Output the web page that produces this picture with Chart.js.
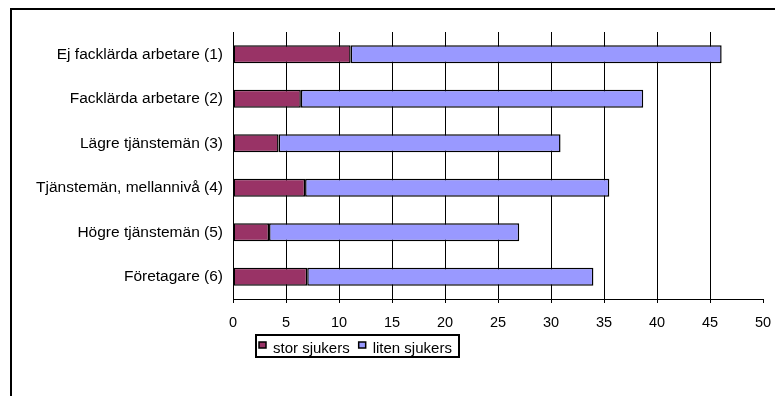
<!DOCTYPE html>
<html>
<head>
<meta charset="utf-8">
<script src="https://cdn.jsdelivr.net/npm/chart.js@4"></script>
<style>
  html, body { margin: 0; padding: 0; background: #fff; }
  canvas { display: block; }
</style>
</head>
<body>
<canvas id="chart" width="775" height="396"></canvas>
<script>
const categories = [
  'Ej facklärda arbetare (1)',
  'Facklärda arbetare (2)',
  'Lägre tjänstemän (3)',
  'Tjänstemän, mellannivå (4)',
  'Högre tjänstemän (5)',
  'Företagare (6)'
];
const storSjukers  = [11.1, 6.4, 4.3, 6.8, 3.4, 7.0];
const litenSjukers = [35.0, 32.3, 26.6, 28.7, 23.6, 27.0];
const seriesNames  = ['stor sjukers', 'liten sjukers'];
const xTicks       = [0, 5, 10, 15, 20, 25, 30, 35, 40, 45, 50];

const FONT = '"Liberation Sans", Arial, sans-serif';

// outer frame (only top and left edges are inside the canvas)
const frame = {
  id: 'frame',
  beforeDraw(chart) {
    const c = chart.ctx;
    c.save();
    c.strokeStyle = '#000';
    c.lineWidth = 2;
    c.beginPath();
    c.moveTo(11, 400);
    c.lineTo(11, 9);
    c.lineTo(780, 9);
    c.stroke();
    c.restore();
  }
};

// boxed legend under the x axis
const boxLegend = {
  id: 'boxLegend',
  afterDraw(chart) {
    const c = chart.ctx;
    c.save();
    c.strokeStyle = '#000';
    c.lineWidth = 2;
    c.strokeRect(256, 335, 203, 22);
    c.font = '15px ' + FONT;
    c.textBaseline = 'alphabetic';
    let x = 259;
    chart.data.datasets.forEach(ds => {
      c.fillStyle = ds.backgroundColor;
      c.fillRect(x, 342, 7, 6);
      c.lineWidth = 1.5;
      c.strokeRect(x, 342, 7, 6);
      x += 14;
      c.fillStyle = '#000';
      c.fillText(ds.label, x, 353);
      x += c.measureText(ds.label).width + 9;
    });
    c.restore();
  }
};

new Chart(document.getElementById('chart'), {
  type: 'bar',
  data: {
    labels: categories,
    datasets: [
      { label: seriesNames[0], data: storSjukers, backgroundColor: '#993366' },
      { label: seriesNames[1], data: litenSjukers, backgroundColor: '#9999FF' }
    ]
  },
  options: {
    indexAxis: 'y',
    responsive: false,
    animation: false,
    devicePixelRatio: 1,
    layout: { padding: { left: 0, top: 32, right: 12, bottom: 0 } },
    datasets: {
      bar: {
        borderColor: '#000',
        borderWidth: 1.5,
        borderSkipped: false,
        categoryPercentage: 0.4,
        barPercentage: 1
      }
    },
    plugins: {
      legend: { display: false },
      tooltip: { enabled: false }
    },
    scales: {
      x: {
        stacked: true,
        min: 0,
        max: 50,
        afterBuildTicks: s => { s.ticks = xTicks.map(v => ({ value: v })); },
        afterFit: s => { s.height = 97; s.paddingLeft = 0; s.paddingRight = 0; },
        grid: {
          color: ctx => (ctx.tick && ctx.tick.value > 0 && ctx.tick.value < 50) ? '#000' : 'rgba(0,0,0,0)',
          tickColor: '#000',
          tickLength: 4,
          lineWidth: 1
        },
        border: { display: true, color: '#000', width: 1 },
        ticks: {
          color: '#000',
          padding: 11,
          maxRotation: 0,
          font: { family: FONT, size: 14.5 }
        }
      },
      y: {
        stacked: true,
        afterFit: s => { s.width = 233; },
        grid: { display: false, drawTicks: false },
        border: { display: true, color: '#000', width: 1 },
        ticks: {
          color: '#000',
          padding: 10,
          font: { family: FONT, size: 15.5 }
        }
      }
    }
  },
  plugins: [frame, boxLegend]
});
</script>
</body>
</html>
